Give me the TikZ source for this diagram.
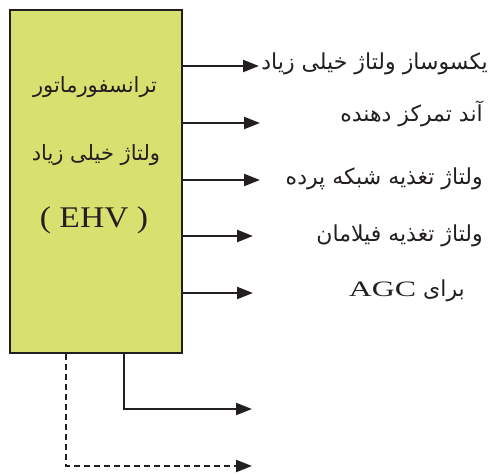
\documentclass[tikz,border=0pt]{standalone}
\usepackage{fontspec}
\usetikzlibrary{arrows.meta}
\TeXXeTstate=1
\newfontfamily\arabicfont[Script=Arabic]{DejaVu Sans}
\newfontfamily\latinfont{Liberation Serif}
\definecolor{boxfill}{RGB}{216,224,112}
\definecolor{inkc}{RGB}{35,31,32}
\begin{document}
\begin{tikzpicture}[x=1pt,y=-1pt,
  conn/.style={draw=inkc,line width=2.3pt,-{Triangle[length=16pt,width=12pt]}},
  lbl/.style={anchor=east,inner sep=0pt,text=inkc,font=\arabicfont\fontsize{22}{26}\selectfont},
  boxtxt/.style={inner sep=0pt,text=inkc,font=\arabicfont\fontsize{21}{25}\selectfont}]
\useasboundingbox (0,0) rectangle (488,475);
\node[draw=inkc,line width=2.3pt,fill=boxfill,minimum width=172pt,minimum height=343pt,anchor=north west,inner sep=0pt] (box) at (9,9) {};
\node[boxtxt] (t1) at (95,87) {\beginR ترانسفورماتور\endR};
\node[boxtxt] (t2) at (96,155) {\beginR ولتاژ خیلی زیاد\endR};
\node[inner sep=0pt,text=inkc,font=\latinfont\fontsize{30}{34}\selectfont] (t3) at (94,220) {\scalebox{1.12}[1]{( EHV )}};
\node[lbl] (l1) at (488,64) {\beginR یکسوساز ولتاژ خیلی زیاد\endR};
\node[lbl] (l2) at (483,114) {\beginR آند تمرکز دهنده\endR};
\node[lbl] (l3) at (483,179) {\beginR ولتاژ تغذیه شبکه پرده\endR};
\node[lbl] (l4) at (483,236) {\beginR ولتاژ تغذیه فیلامان\endR};
\node[lbl] (l5) at (465,291) {\beginR برای \beginL{\latinfont\fontsize{22}{26}\selectfont\scalebox{1.45}[1]{AGC}}\endL\endR};
\coordinate (e1) at (259,66);
\coordinate (e2) at (260,123);
\coordinate (e3) at (260,180);
\coordinate (e4) at (253,236);
\coordinate (e5) at (253,293);
\coordinate (e6) at (252,409);
\coordinate (e7) at (252,466);
\foreach \i in {1,...,5} \draw[conn] (box.east |- e\i) -- (e\i);
\draw[conn] (box.south -| 124,0) |- (e6);
\draw[conn,dashed,dash pattern=on 6pt off 4pt] (box.south -| 66,0) |- (e7);
\end{tikzpicture}
\end{document}
